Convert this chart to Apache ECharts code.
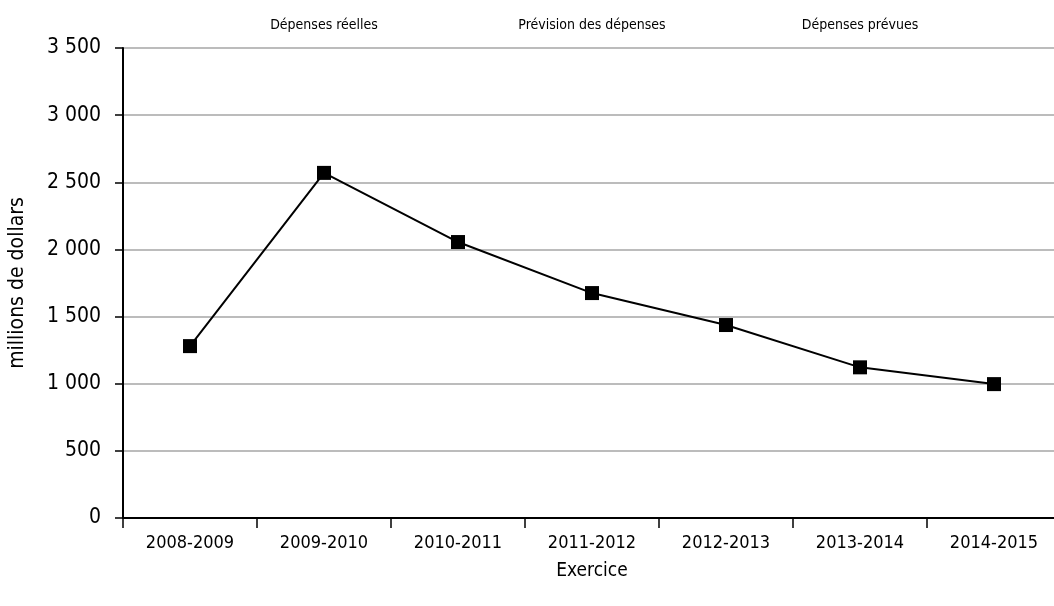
<!DOCTYPE html>
<html>
<head>
<meta charset="utf-8">
<style>
html, body { margin: 0; padding: 0; background: #fff; }
#main { width: 1054px; height: 606px; }
</style>
<script src="https://cdn.jsdelivr.net/npm/echarts@6/dist/echarts.min.js"></script>
</head>
<body>
<div id="main"></div>
<script type="text/javascript">
// exercices
var years = ['2008-2009', '2009-2010', '2010-2011', '2011-2012', '2012-2013', '2013-2014', '2014-2015'];
// depenses en millions de dollars
var depenses = [1280, 2570, 2055, 1675, 1437, 1122, 997];
// libelles du haut (une par periode)
var periodes = ['', 'Dépenses réelles', '', 'Prévision des dépenses', '', 'Dépenses prévues', ''];

var font = '"Liberation Sans Narrow", "DejaVu Sans Condensed", "Liberation Sans", sans-serif';

var myChart = echarts.init(document.getElementById('main'));
var option = {
	animation : false,
	backgroundColor : '#fff',
	textStyle : { fontFamily : font, color : '#000' },
	grid : {
		left : 123,
		width : 938,
		top : 48,
		bottom : 88,
		containLabel : false,
		outerBoundsMode : 'none'
	},
	xAxis : [ {
		type : 'category',
		data : years,
		boundaryGap : true,
		name : 'Exercice',
		nameLocation : 'middle',
		nameGap : 44,
		nameTextStyle : { fontFamily : font, fontSize : 19, color : '#000' },
		axisLine : { show : true, lineStyle : { color : '#000', width : 2 } },
		axisTick : { show : true, interval : 0, length : 10, lineStyle : { color : '#000', width : 1.5 } },
		axisLabel : { interval : 0, margin : 16, fontFamily : font, fontSize : 18, color : '#000' },
		splitLine : { show : false }
	}, {
		type : 'category',
		data : periodes,
		position : 'top',
		boundaryGap : true,
		axisLine : { show : false },
		axisTick : { show : false },
		axisLabel : { interval : 0, margin : 16, fontFamily : font, fontSize : 14, color : '#000' },
		splitLine : { show : false }
	} ],
	yAxis : {
		type : 'value',
		min : 0,
		max : 3500,
		interval : 500,
		name : 'millions de dollars',
		nameLocation : 'middle',
		nameGap : 95,
		nameTextStyle : { fontFamily : font, fontSize : 21, color : '#000' },
		axisLine : { show : true, lineStyle : { color : '#000', width : 2 } },
		axisTick : { show : true, length : 8, lineStyle : { color : '#000', width : 1.5 } },
		axisLabel : {
			margin : 22,
			fontFamily : font,
			fontSize : 21,
			color : '#000',
			formatter : function(v) {
				return String(v).replace(/\B(?=(\d{3})+(?!\d))/g, ' ');
			}
		},
		splitLine : { show : true, lineStyle : { color : '#a6a6a6', width : 1.5 } }
	},
	series : [ {
		name : 'Dépenses',
		type : 'line',
		xAxisIndex : 0,
		data : depenses,
		symbol : 'rect',
		symbolSize : 14,
		itemStyle : { color : '#000' },
		lineStyle : { color : '#000', width : 2 }
	} ]
};
myChart.setOption(option);
</script>
</body>
</html>
